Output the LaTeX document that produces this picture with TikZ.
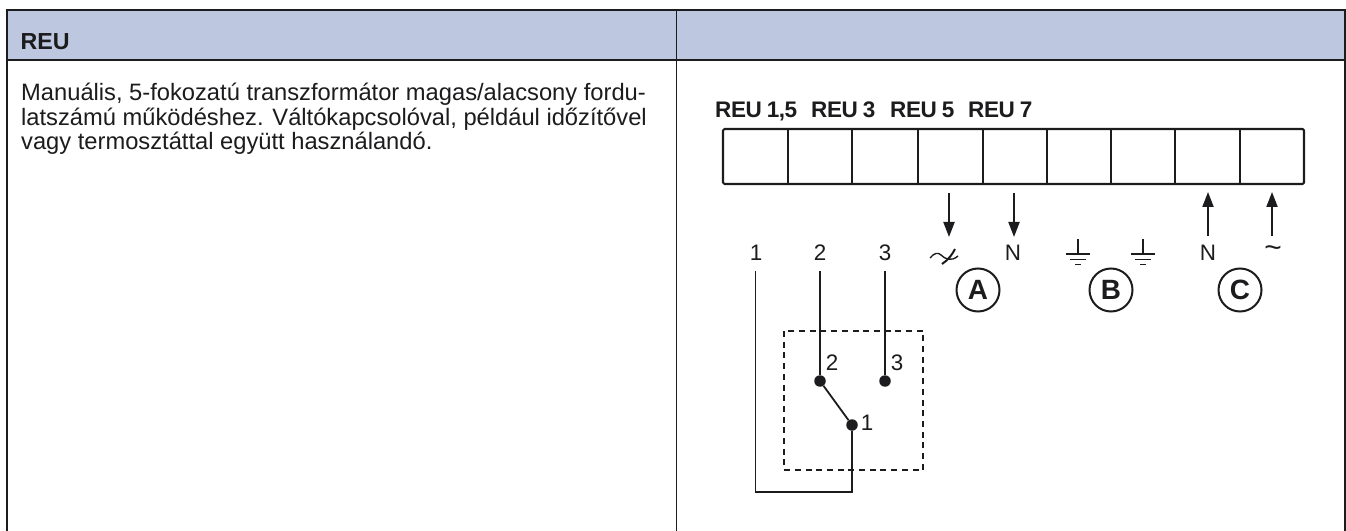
\documentclass[tikz,border=0pt]{standalone}
\usepackage{fontspec}
\setmainfont{Liberation Sans}
\usetikzlibrary{arrows.meta}
\definecolor{hdr}{HTML}{BDC8E0}
\definecolor{ink}{HTML}{1C1C1E}
\tikzset{
  x=1bp,y=-1bp,
  rule/.style={draw=ink,line width=1.4bp},
  box/.style={draw=ink,line width=2.1bp,line join=round},
  wire/.style={draw=ink,line width=1.8bp},
  flow/.style={draw=ink,line width=2bp,-{Triangle[length=15bp,width=11bp]}},
  dot/.style={circle,fill=ink,inner sep=0pt,minimum size=11.5bp},
  tag/.style={font=\fontsize{22.6}{22.6}\selectfont\bfseries\addfontfeature{LetterSpace=-2},inner sep=0pt,anchor=base west,text=ink},
  lab/.style={font=\fontsize{22.5}{22.5}\selectfont,inner sep=0pt,text=ink},
  ring/.style={circle,draw=ink,line width=2bp,minimum size=43bp,inner sep=0pt,font=\fontsize{28}{28}\selectfont\bfseries,text=ink},
  body/.style={font=\fontsize{23.8}{24.1}\selectfont,inner sep=0pt,anchor=base west,align=left,text=ink},
}
\begin{document}
\begin{tikzpicture}
\useasboundingbox (0,0) rectangle (1346,531);
\fill[white] (0,0) rectangle (1346,531);
\fill[hdr] (7,10) rectangle (1345,60);
\draw[rule] (1345,531) -- (1345,10) -- (7,10) -- (7,531);
\draw[rule] (7,60) -- (1345,60);
\draw[rule] (676.5,10) -- (676.5,531);
\node[anchor=base west,inner sep=0pt,font=\fontsize{23.3}{23.3}\selectfont\bfseries,text=ink] (head) at (20.5,50) {REU};
\node[body] (txt1) at (21,101) {Manuális, 5-fokozatú transzformátor magas/alacsony fordu-};
\node[body] (txt2) at (21,125.5) {latszámú működéshez. Váltókapcsolóval, például időzítővel};
\node[body] (txt3) at (21,150) {vagy termosztáttal együtt használandó.};
% strip
\node[tag] (r1) at (715,118) {REU\hspace{5bp}1,5};
\node[tag] (r3) at (811,118) {REU\hspace{5bp}3};
\node[tag] (r5) at (890,118) {REU\hspace{5bp}5};
\node[tag] (r7) at (968,118) {REU\hspace{5bp}7};
\draw[box,rounded corners=1.5bp] (723,129) rectangle (1304,184);
\foreach \x in {788,852,918,983,1047,1111,1175,1240}{\draw[draw=ink,line width=1.5bp] (\x,129) -- (\x,184);}
% arrows
\coordinate (a1s) at (949,193); \coordinate (a1e) at (949,237);
\coordinate (a2s) at (1014,193); \coordinate (a2e) at (1014,237);
\coordinate (a3s) at (1208,236); \coordinate (a3e) at (1208,192);
\coordinate (a4s) at (1272,236); \coordinate (a4e) at (1272,192);
\draw[flow] (a1s) -- (a1e);
\draw[flow] (a2s) -- (a2e);
\draw[flow] (a3s) -- (a3e);
\draw[flow] (a4s) -- (a4e);
% labels
\node[lab] (t1) at (756,253) {1};
\node[lab] (t2) at (820,253) {2};
\node[lab] (t3) at (885,253) {3};
\node[lab] (n1) at (1013,253) {N};
\node[lab] (n2) at (1208,253) {N};
\node[lab,font=\fontsize{30}{30}\selectfont] (tl) at (1273,252) {\textasciitilde};
% switched AC symbol
\draw[ink,line width=1.4bp] (930,258) .. controls (934,253) and (938,252) .. (941,255) .. controls (945,259) and (951,262) .. (958,256);
\draw[ink,line width=2bp] (955,249) .. controls (952,255) and (948,260) .. (942,264);
% grounds
\foreach \x in {1078,1143}{
  \draw[ink,line width=1.3bp] (\x,239) -- (\x,254) (\x-12,254) -- (\x+12,254) (\x-8,259.5) -- (\x+8,259.5) (\x-3,264.5) -- (\x+3,264.5);
}
% rings
\node[ring] (A) at (978,290) {A};
\node[ring] (B) at (1111,290) {B};
\node[ring] (C) at (1240,290) {C};
% switch
\draw[ink,line width=2.4bp,dash pattern=on 6bp off 4.7bp] (784,331) rectangle (923,470);
\coordinate (w1) at (755.5,271);
\coordinate (w2) at (820,271);
\coordinate (w3) at (885,271);
\node[dot] (d2) at (820,381) {};
\node[dot] (d3) at (885,381) {};
\node[dot] (d1) at (852,425) {};
\draw[wire] (w1) -- (755.5,492) -- (852,492) -- (d1);
\draw[wire] (w2) -- (d2);
\draw[wire] (w3) -- (d3);
\draw[wire] (d2) -- (d1);
\node[lab] (s2) at (832,363) {2};
\node[lab] (s3) at (897,363) {3};
\node[lab] (s1) at (867,423) {1};
\end{tikzpicture}
\end{document}
